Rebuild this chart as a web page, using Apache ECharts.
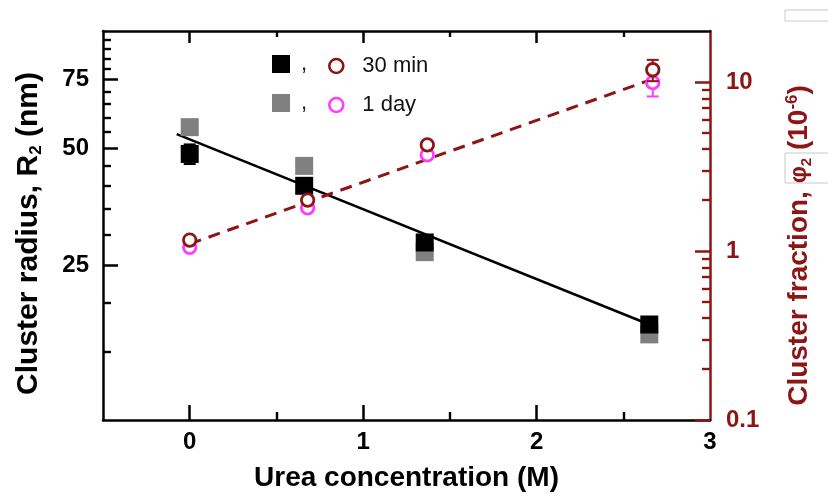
<!DOCTYPE html>
<html>
<head>
<meta charset="utf-8">
<script src="https://cdn.jsdelivr.net/npm/echarts@6/dist/echarts.min.js"></script>
<style>
  html, body { margin: 0; padding: 0; background: #fff; }
  #chart { width: 828px; height: 497px; }
</style>
</head>
<body>
<div id="chart"></div>
<script>
// urea concentration (M) of the measured points
var concRadius = [0, 0.66, 1.355, 2.65];
var concFraction = [0, 0.68, 1.37, 2.67];
// cluster radius R2 (nm)
var radius30min = [48.3, 40.0, 28.6, 17.6];
var radius1day = [56.6, 45.0, 27.0, 16.6];
var radius30minErr = [2.8, 0, 0, 0];
// cluster fraction phi2 (1e-6)
var fraction30min = [1.16, 2.0, 4.24, 11.8];
var fraction1day = [1.05, 1.8, 3.7, 9.9];
var fraction30minErr = [0, 0, 0, 1.7];
var fraction1dayErr = [0, 0, 0, 1.7];
// fit lines (end points)
var radiusFitX = [-0.075, 2.65];
var radiusFitY = [54.3, 17.6];
var fractionFitX = [0, 2.67];
var fractionFitY = [1.1, 10.4];
// ticks
var xMajor = [0, 1, 2];
var xLabels = [0, 1, 2, 3];
var xMinor = [0.5, 1.5, 2.5];
var radiusMajor = [25, 50, 75];
var radiusMinor = [15, 20, 30, 35, 40, 45, 55, 60, 65, 70, 80, 85, 90, 95];
var fractionMajor = [0.1, 1, 10];
var fractionMinor = [0.2, 0.3, 0.4, 0.5, 0.6, 0.7, 0.8, 0.9, 2, 3, 4, 5, 6, 7, 8, 9];

var WINE = "#8c1515";
var WINE2 = "#8b1515";
var PINK = "#ff3cff";
var FONT = "Liberation Sans";

function pairs(xs, ys) {
  var out = [];
  for (var i = 0; i < xs.length; i++) out.push([xs[i], ys[i]]);
  return out;
}
function errData(xs, ys, es) {
  var out = [];
  for (var i = 0; i < xs.length; i++) {
    if (es[i] > 0) out.push([xs[i], ys[i] - es[i], ys[i] + es[i]]);
  }
  return out;
}
function errSeries(data, yIdx, color, z) {
  return {
    type: "custom",
    xAxisIndex: 0,
    yAxisIndex: yIdx,
    z: z,
    silent: true,
    data: data,
    renderItem: function (params, api) {
      var lo = api.coord([api.value(0), api.value(1)]);
      var hi = api.coord([api.value(0), api.value(2)]);
      var st = { stroke: color, lineWidth: 2 };
      return {
        type: "group",
        children: [
          { type: "line", shape: { x1: lo[0], y1: lo[1], x2: hi[0], y2: hi[1] }, style: st },
          { type: "line", shape: { x1: lo[0] - 6, y1: lo[1], x2: lo[0] + 6, y2: lo[1] }, style: st },
          { type: "line", shape: { x1: hi[0] - 6, y1: hi[1], x2: hi[0] + 6, y2: hi[1] }, style: st }
        ]
      };
    }
  };
}

var chart = echarts.init(document.getElementById("chart"));

var blackLine = { show: true, onZero: false, lineStyle: { color: "#000", width: 2.5 } };
var noLine = { show: false, onZero: false };
var tickLabel = { fontFamily: FONT, fontWeight: "bold", fontSize: 24, color: "#000" };

// each tick axis gets its own stroke so the ticks of stacked axes are not merged
function ticks(values, len, color, width) {
  return { show: true, inside: true, length: len, customValues: values, lineStyle: { color: color, width: width } };
}

chart.setOption({
  animation: false,
  backgroundColor: "#fff",
  grid: { left: 103, right: 118, top: 31, bottom: 77, containLabel: false, outerBoundsMode: "none" },
  legend: [
    {
      left: 272, top: 53, orient: "vertical", padding: 0,
      itemWidth: 18, itemHeight: 18, itemGap: 17, icon: "rect",
      data: ["R₂ 30 min", "R₂ 1 day"],
      formatter: function () { return ","; },
      textStyle: { fontFamily: FONT, fontSize: 22, color: "#222", lineHeight: 18, padding: [0, 0, 0, 6] }
    },
    {
      left: 328, top: 55, orient: "vertical", padding: 0,
      itemWidth: 14, itemHeight: 14, itemGap: 17,
      data: [
        { name: "φ₂ 30 min", icon: "circle", itemStyle: { color: "#fff", borderColor: WINE, borderWidth: 2.6 } },
        { name: "φ₂ 1 day", icon: "circle", itemStyle: { color: "#fff", borderColor: PINK, borderWidth: 2.6 } }
      ],
      formatter: function (name) { return name.replace("φ₂ ", ""); },
      textStyle: { fontFamily: FONT, fontSize: 22, color: "#111", lineHeight: 18, padding: [0, 0, 0, 14] }
    }
  ],
  xAxis: [
    {
      type: "value", position: "bottom", min: -0.5, max: 3,
      axisLine: blackLine,
      axisTick: ticks(xMajor, 15, "#000", 2.5),
      axisLabel: Object.assign({ customValues: xLabels, margin: 10 }, tickLabel),
      splitLine: { show: false },
      name: "Urea concentration (M)", nameLocation: "middle", nameGap: 44,
      nameTextStyle: { fontFamily: FONT, fontWeight: "bold", fontSize: 28, color: "#000" }
    },
    {
      type: "value", position: "bottom", min: -0.5, max: 3,
      axisLine: noLine,
      axisTick: ticks(xMinor, 8, "#010101", 2.4),
      axisLabel: { show: false }, splitLine: { show: false }
    },
    {
      type: "value", position: "top", min: -0.5, max: 3,
      axisLine: blackLine,
      axisTick: ticks(xMajor, 12, "#020202", 2.5),
      axisLabel: { show: false }, splitLine: { show: false }
    },
    {
      type: "value", position: "top", min: -0.5, max: 3,
      axisLine: noLine,
      axisTick: ticks(xMinor, 6, "#030303", 2.4),
      axisLabel: { show: false }, splitLine: { show: false }
    }
  ],
  yAxis: [
    {
      type: "log", logBase: 10, position: "left", min: 10, max: 100,
      axisLine: blackLine,
      axisTick: ticks(radiusMajor, 15, "#000", 2.5),
      axisLabel: Object.assign({ customValues: radiusMajor, margin: 14 }, tickLabel),
      splitLine: { show: false },
      name: "Cluster radius, R{sub|2} (nm)", nameLocation: "middle", nameGap: 58,
      nameTextStyle: {
        fontFamily: FONT, fontWeight: "bold", fontSize: 30, color: "#000", lineHeight: 32,
        padding: [0, 16, 0, 0],
        rich: { sub: { fontFamily: FONT, fontWeight: "bold", fontSize: 17, color: "#000", lineHeight: 17, verticalAlign: "bottom" } }
      }
    },
    {
      type: "log", logBase: 10, position: "left", min: 10, max: 100,
      axisLine: noLine,
      axisTick: ticks(radiusMinor, 8, "#040404", 2.4),
      axisLabel: { show: false }, splitLine: { show: false }
    },
    {
      type: "log", logBase: 10, position: "right", min: 0.1, max: 20,
      axisLine: { show: true, onZero: false, lineStyle: { color: WINE, width: 2.5 } },
      axisTick: ticks(fractionMajor, 15, WINE, 2.5),
      axisLabel: { customValues: fractionMajor, margin: 16, fontFamily: FONT, fontWeight: "bold", fontSize: 24, color: WINE },
      splitLine: { show: false },
      name: "Cluster fraction, {phi|φ}{sub|2} (10{sup|-6})", nameLocation: "middle", nameGap: 74,
      nameTextStyle: {
        fontFamily: FONT, fontWeight: "bold", fontSize: 28, color: WINE, lineHeight: 30,
        padding: [0, 40, 0, 0],
        rich: {
          phi: { fontFamily: FONT, fontSize: 24, color: WINE, lineHeight: 30 },
          sub: { fontFamily: FONT, fontSize: 15, color: WINE, lineHeight: 15, verticalAlign: "bottom" },
          sup: { fontFamily: FONT, fontWeight: "bold", fontSize: 17, color: WINE, lineHeight: 17, verticalAlign: "top" }
        }
      }
    },
    {
      type: "log", logBase: 10, position: "right", min: 0.1, max: 20,
      axisLine: noLine,
      axisTick: ticks(fractionMinor, 8, WINE2, 2.4),
      axisLabel: { show: false }, splitLine: { show: false }
    }
  ],
  graphic: [
    { type: "rect", shape: { x: 785, y: 10, width: 60, height: 11 }, style: { fill: "none", stroke: "#c8c8c8", lineWidth: 1 }, silent: true },
    { type: "rect", shape: { x: 785, y: 153, width: 60, height: 30 }, style: { fill: "none", stroke: "#c8c8c8", lineWidth: 1 }, silent: true }
  ],
  series: [
    {
      name: "fit R", type: "line", xAxisIndex: 0, yAxisIndex: 0, z: 2,
      symbol: "none", data: pairs(radiusFitX, radiusFitY),
      lineStyle: { color: "#000", width: 2.5 }
    },
    {
      name: "fit phi", type: "line", xAxisIndex: 0, yAxisIndex: 2, z: 2,
      symbol: "none", data: pairs(fractionFitX, fractionFitY),
      lineStyle: { color: WINE, width: 3, type: [12, 8] }
    },
    errSeries(errData(concRadius, radius30min, radius30minErr), 0, "#000", 3),
    {
      name: "R₂ 1 day", type: "scatter", xAxisIndex: 0, yAxisIndex: 0, z: 4,
      symbol: "rect", symbolSize: 18, data: pairs(concRadius, radius1day),
      itemStyle: { color: "#808080", opacity: 1 }
    },
    {
      name: "R₂ 30 min", type: "scatter", xAxisIndex: 0, yAxisIndex: 0, z: 5,
      symbol: "rect", symbolSize: 18, data: pairs(concRadius, radius30min),
      itemStyle: { color: "#000", opacity: 1 }
    },
    errSeries(errData(concFraction, fraction1day, fraction1dayErr), 2, PINK, 6),
    {
      name: "φ₂ 1 day", type: "scatter", xAxisIndex: 0, yAxisIndex: 2, z: 7,
      symbol: "circle", symbolSize: 12.5, data: pairs(concFraction, fraction1day),
      itemStyle: { color: "#fff", borderColor: PINK, borderWidth: 2.8, opacity: 1 }
    },
    errSeries(errData(concFraction, fraction30min, fraction30minErr), 2, WINE, 8),
    {
      name: "φ₂ 30 min", type: "scatter", xAxisIndex: 0, yAxisIndex: 2, z: 9,
      symbol: "circle", symbolSize: 12.5, data: pairs(concFraction, fraction30min),
      itemStyle: { color: "#fff", borderColor: WINE, borderWidth: 2.8, opacity: 1 }
    }
  ]
});
</script>
</body>
</html>
